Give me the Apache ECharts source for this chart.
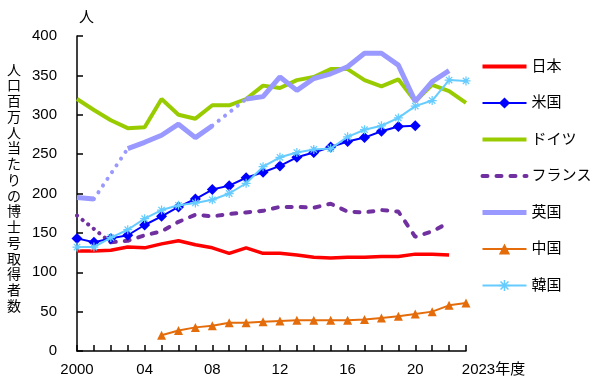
<!DOCTYPE html>
<html>
<head>
<meta charset="utf-8">
<script src="https://cdn.jsdelivr.net/npm/echarts@6/dist/echarts.min.js"></script>
<style>html,body{margin:0;padding:0;background:#fff;}#c{width:600px;height:384px;}</style>
</head>
<body>
<div id="c"></div>
<script>
var years = ['2000','2001','2002','2003','2004','2005','2006','2007','2008','2009','2010','2011','2012','2013','2014','2015','2016','2017','2018','2019','2020','2021','2022','2023'];
var xLabels = ['2000','','','','04','','','','08','','','','12','','','','16','','','','20','','','2023年度'];
var seriesNames = ['日本','米国','ドイツ','フランス','英国','中国','韓国'];
var japan   = [127,127,128,132,131,136,140,135,131,124,131,124,124,122,119,118,119,119,120,120,123,123,122,null];
var usa     = [143,138,143,147,160,171,183,193,205,210,220,227,235,246,252,259,266,271,279,285,286,null,null,null];
var germany = [320,306,293,283,284,320,300,295,312,312,320,337,334,344,348,358,358,344,336,345,317,338,330,315];
var france  = [172,null,138,140,147,152,164,173,171,174,176,178,183,183,182,187,177,176,179,177,145,152,163,null];
var franceGap = [172,null,138,null,null,null,null,null,null,null,null,null,null,null,null,null,null,null,null,null,null,null,null,null];
var uk      = [195,193,null,257,265,274,288,271,286,null,320,323,348,331,346,352,361,378,378,363,317,342,356,null];
var ukGapA  = [null,193,null,257,null,null,null,null,null,null,null,null,null,null,null,null,null,null,null,null,null,null,null,null];
var ukGapB  = [null,null,null,null,null,null,null,null,286,null,320,null,null,null,null,null,null,null,null,null,null,null,null,null];
var china   = [null,null,null,null,null,20,26,30,32,36,36,37,38,39,39,39,39,40,42,44,47,50,58,61];
var korea   = [132,132,144,154,168,179,185,188,192,200,213,234,246,252,256,257,272,281,286,296,311,318,344,343];
var yTitle = '人口百万人当たりの博士号取得者数';

var FONT = "'Liberation Sans', 'Noto Sans CJK JP', sans-serif";
var asterisk = 'path://M-5,-0.7L5,-0.7L5,0.7L-5,0.7Z M-0.7,-5L0.7,-5L0.7,5L-0.7,5Z M-4.03,-3.04L-3.04,-4.03L4.03,3.04L3.04,4.03Z M3.04,-4.03L4.03,-3.04L-3.04,4.03L-4.03,3.04Z';
var noMarker = {opacity: 0};

var chart = echarts.init(document.getElementById('c'), null, {renderer: 'canvas'});
chart.setOption({
  animation: false,
  backgroundColor: '#ffffff',
  textStyle: {fontFamily: FONT, color: '#000'},
  grid: {left: 77, top: 36, right: 134, bottom: 33, containLabel: false},
  legend: {
    orient: 'vertical', left: 480, top: 59, padding: 0,
    itemWidth: 44, itemHeight: 14, itemGap: 21.5,
    textStyle: {fontSize: 15, color: '#000', fontFamily: FONT},
    data: [
      {name: seriesNames[0], itemStyle: noMarker, lineStyle: {width: 4}},
      {name: seriesNames[1], lineStyle: {width: 2}},
      {name: seriesNames[2], itemStyle: noMarker, lineStyle: {width: 4}},
      {name: seriesNames[3], itemStyle: noMarker, lineStyle: {width: 4}},
      {name: seriesNames[4], itemStyle: noMarker, lineStyle: {width: 5}},
      {name: seriesNames[5], lineStyle: {width: 2}},
      {name: seriesNames[6], lineStyle: {width: 2}}
    ]
  },
  xAxis: {
    type: 'category', data: years, boundaryGap: false,
    axisLine: {lineStyle: {color: '#000', width: 1.5}},
    axisTick: {inside: true, length: 6, interval: 0, lineStyle: {color: '#000', width: 1.5}},
    axisLabel: {
      interval: 0, margin: 11, fontSize: 15, color: '#000', fontFamily: FONT,
      formatter: function (v, i) { return i === 23 ? '{last|' + xLabels[i] + '}' : xLabels[i]; },
      rich: {last: {fontSize: 15, color: '#000', fontFamily: FONT, padding: [0, 0, 0, 55]}}
    },
    splitLine: {show: false}
  },
  yAxis: {
    type: 'value', min: 0, max: 400, interval: 50,
    axisLine: {show: true, lineStyle: {color: '#000', width: 1.5}},
    axisTick: {show: true, inside: true, length: 6, lineStyle: {color: '#000', width: 1.5}},
    axisLabel: {margin: 20, fontSize: 15, color: '#000', fontFamily: FONT},
    splitLine: {show: false}
  },
  graphic: [
    {type: 'text', left: 79, top: 10, style: {text: '人', fontSize: 15, fill: '#000', fontFamily: FONT}},
    {type: 'text', x: 14, y: 189, style: {text: yTitle.split('').join('\n'), fontSize: 14, lineHeight: 15.75, fill: '#000', fontFamily: FONT, align: 'center', verticalAlign: 'middle'}}
  ],
  series: [
    {name: seriesNames[0], type: 'line', data: japan, symbol: 'none', lineStyle: {color: '#FF0000', width: 3.5}, itemStyle: {color: '#FF0000'}, z: 2},
    {name: seriesNames[1], type: 'line', data: usa, symbol: 'diamond', symbolSize: 11, lineStyle: {color: '#0000FF', width: 2}, itemStyle: {color: '#0000FF'}, z: 3},
    {name: seriesNames[2], type: 'line', data: germany, symbol: 'none', lineStyle: {color: '#99CC00', width: 4}, itemStyle: {color: '#99CC00'}, z: 2},
    {name: seriesNames[3], type: 'line', data: france, symbol: 'none', connectNulls: false, lineStyle: {color: '#7030A0', width: 4, type: [5, 9], cap: 'round'}, itemStyle: {color: '#7030A0'}, z: 2},
    {name: 'franceGap', type: 'line', data: franceGap, symbol: 'none', connectNulls: true, lineStyle: {color: '#7030A0', width: 4, type: [0.1, 7], cap: 'round'}, z: 2},
    {name: seriesNames[4], type: 'line', data: uk, symbol: 'none', connectNulls: false, lineStyle: {color: '#9999FF', width: 5}, itemStyle: {color: '#9999FF'}, z: 2},
    {name: 'ukGapA', type: 'line', data: ukGapA, symbol: 'none', connectNulls: true, lineStyle: {color: '#9999FF', width: 4, type: [0.1, 8], cap: 'round'}, z: 2},
    {name: 'ukGapB', type: 'line', data: ukGapB, symbol: 'none', connectNulls: true, lineStyle: {color: '#9999FF', width: 4, type: [0.1, 8], cap: 'round'}, z: 2},
    {name: seriesNames[5], type: 'line', data: china, symbol: 'triangle', symbolSize: 9, lineStyle: {color: '#E46C0A', width: 2}, itemStyle: {color: '#E46C0A'}, z: 3},
    {name: seriesNames[6], type: 'line', data: korea, symbol: asterisk, symbolSize: 9, lineStyle: {color: '#66CCFF', width: 2}, itemStyle: {color: '#66CCFF'}, z: 4}
  ]
});
</script>
</body>
</html>
